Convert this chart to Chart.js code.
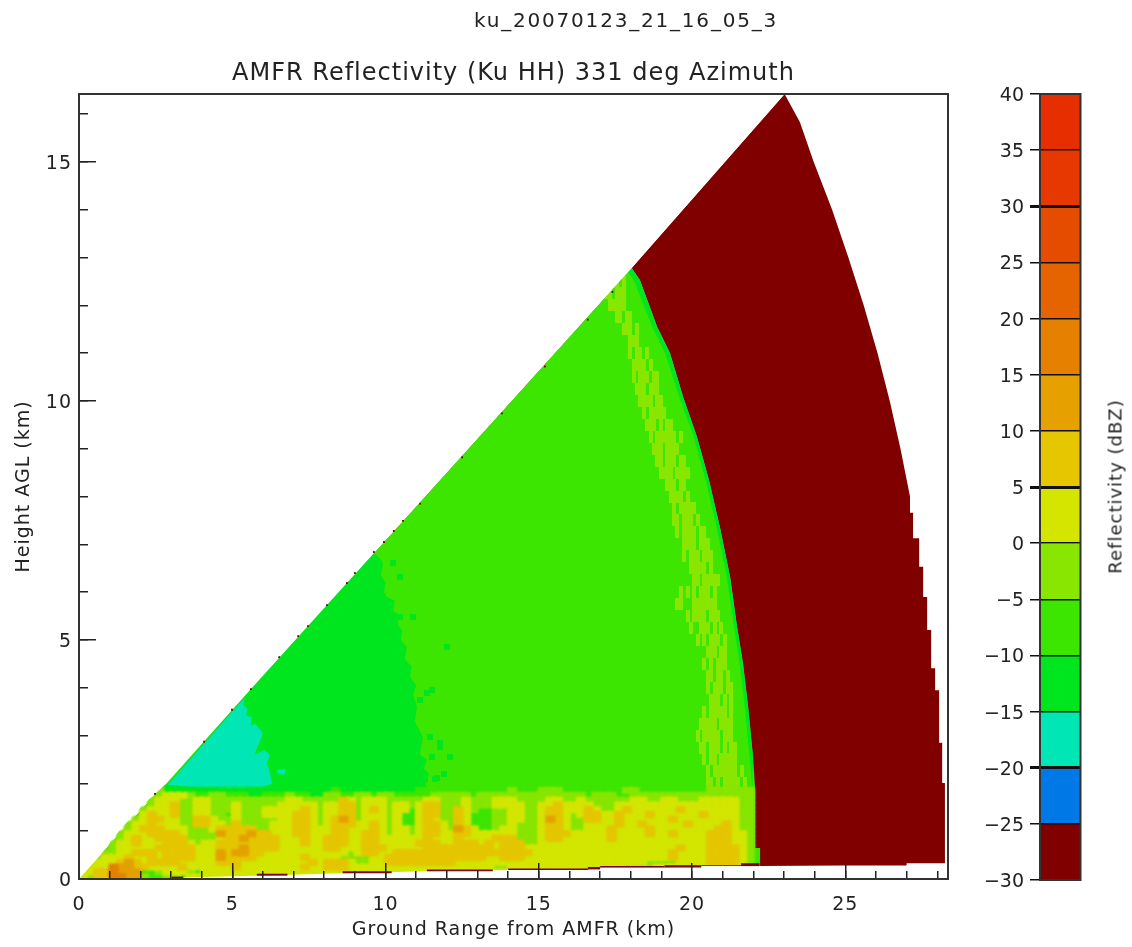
<!DOCTYPE html>
<html><head><meta charset="utf-8">
<script src="https://cdn.jsdelivr.net/npm/chart.js@4"></script>
<style>
html,body{margin:0;padding:0;background:#fff;width:1132px;height:947px;overflow:hidden}
canvas{position:absolute;top:0;filter:blur(0.35px)}
.t{position:absolute;font-family:"DejaVu Sans";color:#222;white-space:nowrap;text-align:center}
</style></head><body>
<canvas id="plot" width="1132" height="947" style="left:0"></canvas>
<canvas id="bar" width="147" height="947" style="left:985px"></canvas>
<div class="t" id="fileId" style="left:426px;width:400px;top:8px;font-size:20px;letter-spacing:1.8px">ku_20070123_21_16_05_3</div>
<div class="t" id="barTitle" style="left:915px;width:400px;top:476px;font-size:18px;letter-spacing:1px;transform:rotate(-90deg)">Reflectivity (dBZ)</div>
<script>
const titleText = 'AMFR Reflectivity (Ku HH) 331 deg Azimuth';
const xTitle = 'Ground Range from AMFR (km)';
const yTitle = 'Height AGL (km)';
const FONT = '"DejaVu Sans"';
const colDark='#800000', colBlue='#0078e6', colTeal='#00e6b4', colGreen='#00e61e', colBright='#3ce600', colLime='#88e600', colYellow='#d4e600', colGold='#e6c600', colAmber='#e6a000', colDeep='#e68000';

// colour scale
const bandEdges = [-30,-25,-20,-15,-10,-5,0,5,10,15,20,25,30,35,40];
const bandColours = [colDark,colBlue,colTeal,colGreen,colBright,colLime,colYellow,colGold,colAmber,colDeep,'#e66400','#e64c00','#e63800','#e62e00'];
const thickEdges = [-20,5,30];

// region outlines, km (x ground range, y height)
const wedgeOuter = [[0,0],[5.6,3.97],[10.57,7.49],[18.03,12.78],[23.02,16.42],[23.52,15.83],[23.97,15],[24.57,14],[25.1,13],[25.6,12],[26.05,11],[26.45,10],[26.8,9],[27.11,8],[27.11,7.66],[27.21,7.66],[27.21,7.13],[27.41,7.13],[27.41,6.53],[27.54,6.53],[27.54,5.9],[27.67,5.9],[27.67,5.21],[27.8,5.21],[27.8,4.41],[27.93,4.41],[27.93,3.95],[28.06,3.95],[28.06,2.85],[28.16,2.85],[28.16,2.01],[28.25,2.01],[28.25,0.2],[0,0]];
const returnEdge = [[18.03,12.78],[18.3,12.53],[18.86,11.55],[19.28,11.0],[19.71,10.08],[20.16,9.25],[20.55,8.35],[20.91,7.36],[21.24,6.32],[21.47,5.27],[21.66,4.52],[21.83,3.6],[21.99,2.55],[22.06,1.86],[22.06,0.65],[22.22,0.65],[22.22,0.2]];
const brightArea = [[0,0],[5.6,3.97],[10.57,7.49],...returnEdge,[0,0]];
const edgeStrip = [...returnEdge.slice(0,13),[21.97,1.86],[21.88,2.55],[21.72,3.6],[21.55,4.52],[21.37,5.27],[21.13,6.32],[20.8,7.36],[20.44,8.35],[20.05,9.25],[19.58,10.08],[19.12,11.0],[18.7,11.55],[18.1,12.53],[17.9,12.7]];
const greenArea = [[2.6,1.85],[2.9,2.0],[5.6,3.97],[9.59,6.84],[9.75,6.75],[9.92,6.61],[9.85,6.35],[10.0,6.2],[9.95,6.0],[10.05,5.9],[10.3,5.82],[10.25,5.6],[10.38,5.56],[10.42,5.3],[10.55,5.2],[10.5,5.0],[10.7,4.85],[10.62,4.6],[10.85,4.45],[10.8,4.23],[11.0,4.05],[10.9,3.85],[11.03,3.6],[10.95,3.3],[11.22,2.97],[11.12,2.6],[11.35,2.5],[11.25,2.3],[11.42,2.2],[11.3,2.0],[11.4,1.85]];
const tealArea = [[2.9,1.97],[5.42,3.8],[5.35,3.65],[5.5,3.55],[5.45,3.42],[5.64,3.39],[5.6,3.2],[5.75,3.25],[6.0,3.05],[5.92,2.9],[5.81,2.74],[5.72,2.6],[6.05,2.7],[6.23,2.59],[6.12,2.42],[6.2,2.3],[6.3,2.0],[5.9,1.9],[5.3,1.84],[4.83,1.86],[4.2,1.9],[3.72,1.92]];
const tealFleck = [[6.45,2.28],[6.75,2.3],[6.7,2.18],[6.5,2.2]];
const maskUpper = [[0,0],[0.7,0.5],[1.3,1.0],[2.0,1.5],[2.85,2.0],[5.6,3.97],[10.57,7.49],[18.03,12.78],[23.02,16.42],[23.02,16.6],[0,16.6]];
const maskLower = [[3.03,0],[3.4,0.03],[5.8,0.07],[8.6,0.12],[11.35,0.16],[14,0.19],[16.6,0.2],[17,0.24],[19.1,0.24],[20.3,0.27],[22.2,0.27],[25,0.28],[27,0.28],[27,0.33],[28.4,0.33],[28.4,-0.1],[3.03,-0.1]];
const groundStrips = [[3.03,3.4,0,0.05],[5.8,6.8,0.07,0.11],[8.6,10.2,0.12,0.16],[11.35,13.5,0.16,0.2],[14,16.6,0.19,0.22],[16.6,17,0.2,0.25],[17,19.1,0.24,0.27],[19.1,20.3,0.24,0.29],[20.3,21.6,0.27,0.29],[21.6,22.2,0.27,0.33]];
const edgeDotsX = [2.48,4.08,4.99,5.61,6.53,7.15,7.47,8.09,8.74,9.0,9.62,9.95,10.27,10.57,11.13,12.5,13.8,15.2,16.6,17.4];
const edgeDotsY = [1.78,2.87,3.54,3.97,4.64,5.08,5.29,5.73,6.19,6.4,6.84,7.05,7.28,7.49,7.85,8.82,9.74,10.72,11.7,12.28];
const greenSpecksX = [11.78,11.5,12.1,11.68,10.9,10.47,10.24,10.47,12.0,11.35,11.5,11.13,11.45,11.78,11.9,11.3,11.6];
const greenSpecksY = [2.76,2.55,2.55,2.11,5.48,5.48,6.61,6.32,4.85,3.89,3.95,3.74,2.97,2.85,2.2,2.1,2.1];

// low-level band: one character per 0.25 km cell, 0.1 km tall, groups are 1 km; first row is 1.8-1.9 km
const bandRows = [
'.... .... ..lg gggg gggg gggg gggg gggg gbgg gggg gggg bbbb bbbb bbbb lbbb lllb bbbb bbbl lbbb bbbb bbll llll',
'.... .... ..ly yylb bllb bbgg bbbl bbgg llbb llbl lbbb bbll lllb llll llll llll llbl llbb llll llll llll llll',
'.... .... .lyy ylly ylll llll llly ylll lloy lyyy llll lyyl llyl llyy ylll lyyl lyll llll yyll yyll lyyy yyll',
'.... .... .lyy olly ylll ylll llyy yyyl yyoo lyyy lyyl yool llyl llyy yyll yyoy yyyl llyy yyyy yyyy yyyy yyll',
'.... .... lyyy olly ylll ylll yyyy yoyl yyoo lyoy lyyb yool loyl bbll yyll yooy yyoy llyo yyyy yyoy yyyy yyll',
'.... .... yoyy olly yllb ylll yyyy ooyl yyoo lyyy lybb yool loyb bbll yyll yooy lyoo yyoy yyoy yyyy yoyy yyll',
'.... ...l yooy yllo oyll ylll llyy ooyl yoro lyyy lybb yoyl loyb bbll yyll yroy lloo yyoy yyyy yoyy yyyy yyll',
'.... ..ly yoyy yllo oyyl olll lyyy ooyl yooo yyoy lybb yooy loyb bbll ylll yooy llyy yyoy yoyy yyyo yyyy oyll',
'.... ..ly oooy yyll lyoo oool lyyy ooyy yooy yyoy lyyl yooy lroy bbly ylll yooy llyy yoyy yyoy yyyy yyyo oyll',
'.... .lyy yooo oyll llro ooro oyyy ooyy yooy yooy lyyl yooy yooy yyyy ylll yooo yyyy yoyy yyoy yoyy yyoo oyyl',
'.... .lyo yyoo ooll llyo oroo ooyy yoyy oooy yooy yyyy yoyy yoyy yyoo olll yooy yyyy yoyy yyyy yyyy yyoo oyyl',
'.... lyyo yyyo ooyl yyoo oooo ooyy yoyy oooy yooy yyyy oooy yooo yoyo ooll yyyy yyyy yyyy yyyy yyyy yyoo oyyl',
'.... lyyy yyoo oooy yyoo oroo ooyy yyyy ooyy yooo yyyy yooo oooo ooyo ooyy yyyy yyyy yyyy yyyy yyoy yyoo ooyl',
'...l lyyo ooyo oooy yyro rroo yyyy yyyy yyyl yooy yooo oooo oooo oooo oooy yyyy yyyy yyyy yyyy yoyy yyoo ooyl',
'..ly yyoy yoyo oooy yyro oooy yyyy yoyy yyll llyy oooo oooo oooo oyyo ooyy yyyy yyyy yyyy yyyy yoyy yyoo ooyl',
'..yy yoro yooo oyyy yyoo oyyy yyyy yyoy oooy llyy oooo oooo oyyy yyyy yyyy yyyy yyyy yyyy yyll llyy yyoo ooyl',
'.yyy drro oyyy yoyy yyyy oyyy yyyy yoyy oooy yyyy yyyy yyyy yyyy yyll yyyy yyyy yyyy yyyl llly yyyy yyyy yyyl',
'yyoo drrr bbly yylb yyyy yyyy yyyy yyyy yyyy yyyy yyyy yyyy yyyy yyyy yyyy yyyy yyyy yyyy yyyy yyyy yyyy yyyy',
'yloo ddrr lbbl lbyy yyyy yyyy yyyy yyyy yyyy yyyy yyyy yyyy yyyy yyyy yyyy yyyy yyyy yyyy yyyy yyyy yyyy yyyy'
];
const bandTop = 1.9, bandCellX = 0.25, bandCellY = 0.1;
const bandColourOf = {g:colGreen,b:colBright,l:colLime,y:colYellow,o:colGold,r:colAmber,d:colDeep};

// lime speckle near the far edge of the returns: one row per 0.25 km of height, cells 0.11 km wide from 16.5 km
const speckTop = 12.5, speckCellY = 0.25, speckStartX = 16.5, speckCellX = 0.11;
const speckRows = [
'......l.ll.l',
'......ll.lll.',
'.......lllll.',
'.........ll.ll.',
'...........lll.l',
'.............lll',
'.............l.ll.l',
'..............llll.l',
'..............l.lll.ll',
'...............lll.lll',
'................llll.ll.',
'.................l.lllll',
'..................lll.l.ll',
'...................l.llllll.l',
'....................lll.llll.',
'.....................ll.lll.ll',
'......................llll.llll',
'........................lll.ll',
'.........................llll.l',
'..........................l.lllll',
'..........................ll.lll.l',
'...........................l.llll.ll',
'.............................llll.lll',
'.............................l.lll.lll',
'...............................lllll.l',
'................................ll.lllll',
'............................l.l.l.lll.l',
'...........................ll...lllllll',
'..............................l.llll.lll',
'...............................l..lll.l.l',
'.................................l.l.lll.l',
'....................................lll.ll.',
'...................................l.l.lll.',
'....................................ll.ll.l.',
'....................................l.lll.ll',
'.....................................lll.l.l',
'...................................l.lllll.l',
'..................................lllll.llll.',
'.................................l.lllll.lll',
'..................................ll.lll.l.ll',
'...................................l.ll.lllll.',
'....................................l.lllllll.l',
'....................................ll.l.lllll.l'
];

// ---- build datasets
const poly = (pts,color)=>({data:pts.map(p=>({x:p[0],y:p[1]})),showLine:true,fill:'shape',backgroundColor:color,borderColor:color,borderWidth:0,pointRadius:0,tension:0});
function cellStyle(color,w,h,soft){const m=soft?4:0;const c=document.createElement('canvas');c.width=w+2*m;c.height=h+2*m;const g=c.getContext('2d');if(soft)g.filter='blur('+soft+'px)';g.fillStyle=color;g.fillRect(m,m,w,h);return c;}
const cells = (pts,color,w,h,soft)=>({data:pts,showLine:false,fill:false,pointStyle:cellStyle(color,w,h,soft),pointRadius:1,pointHoverRadius:1,backgroundColor:color,borderWidth:0});

const layers = [poly(wedgeOuter,colDark),poly(brightArea,colBright),poly(edgeStrip,colGreen),poly(greenArea,colGreen),poly(tealArea,colTeal),poly(tealFleck,colTeal)];

const specks = [];
speckRows.forEach((row,r)=>{[...row].forEach((ch,c)=>{if(ch==='l')specks.push({x:speckStartX+speckCellX*(c+0.5),y:speckTop-r*speckCellY});});});
layers.push(cells(specks,colLime,4,12));
layers.push(cells(greenSpecksX.map((x,i)=>({x,y:greenSpecksY[i]})),colGreen,6,6));

const bandPts = {};
bandRows.forEach((row,r)=>{[...row.replace(/ /g,'')].forEach((ch,c)=>{if(ch==='.')return;(bandPts[ch]=bandPts[ch]||[]).push({x:bandCellX*(c+0.5),y:bandTop-bandCellY*(r+0.5)});});});
for(const k of 'gblyord'){ if(bandPts[k]) layers.push(cells(bandPts[k],bandColourOf[k],10,7,1)); }

layers.push(poly(maskUpper,'#ffffff'),poly(maskLower,'#ffffff'));
groundStrips.forEach(s=>layers.push(poly([[s[0],s[2]],[s[1],s[2]],[s[1],s[3]],[s[0],s[3]]],colDark)));
layers.push({data:edgeDotsX.map((x,i)=>({x,y:edgeDotsY[i]})),showLine:false,pointStyle:'rect',pointRadius:1.3,backgroundColor:colDark,borderWidth:0});

const INK='#222', AXIS='#333';
const frame = {id:'frame',afterDraw(ch){const a=ch.chartArea,g=ch.ctx;g.save();g.strokeStyle=AXIS;g.lineWidth=2;g.strokeRect(a.left,a.top,a.right-a.left,a.bottom-a.top);g.restore();}};
const spacing = {id:'spacing',beforeDraw(ch){ch.ctx.letterSpacing='1px';}};

new Chart(document.getElementById('plot'),{
 type:'scatter',
 data:{datasets:layers.reverse()},
 plugins:[frame,spacing],
 options:{responsive:false,animation:false,events:[],
  layout:{padding:{left:0,right:184,top:0,bottom:0}},
  plugins:{legend:{display:false},tooltip:{enabled:false},
   title:{display:true,text:titleText,fullSize:false,color:INK,font:{family:FONT,size:24,weight:'normal',lineHeight:1.2},padding:{top:59.6,bottom:5.6}}},
  scales:{
   x:{type:'linear',position:'bottom',min:0,max:28.35,weight:1,afterFit:s=>{s.height=68;},
      ticks:{stepSize:5,includeBounds:false,autoSkip:false,maxRotation:0,padding:31,color:INK,font:{family:FONT,size:19}},
      grid:{drawOnChartArea:false,tickLength:-16,z:1,color:INK,lineWidth:1.5},border:{color:AXIS,width:2,z:1},
      title:{display:true,text:xTitle,color:INK,font:{family:FONT,size:19},padding:{top:6,bottom:6}}},
   xMinor:{type:'linear',axis:'x',position:'bottom',min:0,max:28.35,weight:0,afterFit:s=>{s.height=0;},
      ticks:{display:false,stepSize:1,includeBounds:false,autoSkip:false},
      grid:{drawOnChartArea:false,tickLength:-8,z:1,color:INK,lineWidth:1.5},border:{display:false}},
   y:{type:'linear',position:'left',min:0,max:16.42,weight:1,afterFit:s=>{s.width=79;},
      ticks:{stepSize:5,includeBounds:false,autoSkip:false,padding:24,labelOffset:2,color:INK,font:{family:FONT,size:19}},
      grid:{drawOnChartArea:false,tickLength:-17,z:1,color:INK,lineWidth:1.5},border:{color:AXIS,width:2,z:1},
      title:{display:true,text:yTitle,color:INK,font:{family:FONT,size:19},padding:{top:13,bottom:13}}},
   yMinor:{type:'linear',axis:'y',position:'left',min:0,max:16.42,weight:0,afterFit:s=>{s.width=0;},
      ticks:{display:false,stepSize:1,includeBounds:false,autoSkip:false},
      grid:{drawOnChartArea:false,tickLength:-9,z:1,color:INK,lineWidth:1.5},border:{display:false}}
  }}
});

new Chart(document.getElementById('bar'),{
 type:'bar',
 data:{labels:['dBZ'],datasets:bandColours.map((c,i)=>({data:[[bandEdges[i],bandEdges[i+1]]],backgroundColor:c,borderWidth:0,grouped:false,barPercentage:1,categoryPercentage:1}))},
 plugins:[frame],
 options:{responsive:false,animation:false,events:[],
  layout:{padding:{left:0,right:51.5,top:94,bottom:67}},
  plugins:{legend:{display:false},tooltip:{enabled:false}},
  scales:{
   x:{display:false},
   y:{position:'left',min:-30,max:40,afterFit:s=>{s.width=55;},
      ticks:{stepSize:5,autoSkip:false,padding:6,labelOffset:2,color:INK,font:{family:FONT,size:19},callback:v=>String(v).replace('-','\u2212')},
      grid:{drawOnChartArea:true,z:1,tickLength:10,color:'#111',lineWidth:c=>thickEdges.includes(c.tick&&c.tick.value)?3:1.5},border:{display:false}}
  }}
});
</script>
</body></html>
